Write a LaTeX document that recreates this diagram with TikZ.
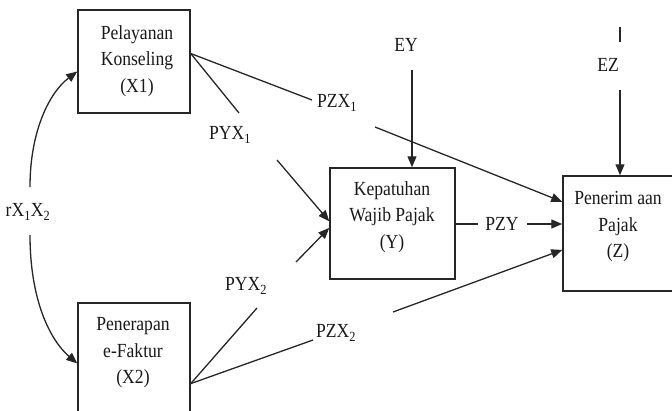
\documentclass[tikz,border=0pt]{standalone}
\usepackage{fontspec}
\setmainfont[FakeStretch=0.88]{Liberation Serif}
\usetikzlibrary{arrows.meta}

\begin{document}
\begin{tikzpicture}[x=1pt,y=-1pt,
  box/.style={draw=black!85,line width=1.5pt,inner sep=0pt},
  txt/.style={align=center,font=\fontsize{20}{26.5}\selectfont,inner sep=0pt,text=black!90},
  lbl/.style={font=\fontsize{20}{24}\selectfont,inner sep=0pt,text=black!90},
  lnk/.style={draw=black!85,line width=1.3pt},
  arr/.style={lnk,-{Triangle[length=11pt,width=9pt]}}
]
\useasboundingbox (0,0) rectangle (672,410);

% variable boxes
\node[box,minimum width=112pt,minimum height=103pt] (X1) at (134,61.5) {};
\node[box,minimum width=112pt,minimum height=113pt] (X2) at (134,359.5) {};
\node[box,minimum width=125pt,minimum height=111pt] (Y)  at (392.5,223.5) {};
\node[box,minimum width=113pt,minimum height=115pt] (Z)  at (619.5,233.5) {};

% box texts
\node[txt] (X1t) at (137,61) {Pelayanan\\Konseling\\(X1)};
\node[txt] (X2t) at (133,353) {Penerapan\\e-Faktur\\(X2)};
\node[txt] (Yt)  at (392,217) {Kepatuhan\\Wajib Pajak\\(Y)};
\node[txt] (Zt)  at (618,227) {Penerim aan\\Pajak\\(Z)};

% path coefficient labels
\node[lbl] (EY)   at (406,45)  {EY};
\node[lbl] (EZ)   at (608,65)  {EZ};
\node[lbl] (PYX1) at (230,135) {PYX\textsubscript{1}};
\node[lbl] (PZX1) at (337,103) {PZX\textsubscript{1}};
\node[lbl] (PYX2) at (246,286) {PYX\textsubscript{2}};
\node[lbl] (PZX2) at (336,333) {PZX\textsubscript{2}};
\node[lbl] (PZY)  at (502,224) {PZY};
\node[lbl] (rX)   at (28,212)  {rX\textsubscript{1}X\textsubscript{2}};

% free ends of the broken connectors
\coordinate (p1a) at (312,100);
\coordinate (p1b) at (375,127);
\coordinate (y1a) at (239,113);
\coordinate (y1b) at (277,160);
\coordinate (y2a) at (257,308);
\coordinate (y2b) at (296,262);
\coordinate (p2a) at (313,340);
\coordinate (p2b) at (393,312);
\coordinate (r1)  at (30,187);
\coordinate (r2)  at (30,235);
\coordinate (eyS) at (412,70);
\coordinate (ezT) at (620,27);
\coordinate (ezU) at (620,42);
\coordinate (ezS) at (620,90);
\coordinate (pyA) at (478,224);
\coordinate (pyB) at (527,224);

% X1 paths
\draw[lnk] (X1.8) -- (p1a);
\draw[arr] (p1b) -- (Z.151);
\draw[lnk] (X1.8) -- (y1a);
\draw[arr] (y1b) -- (Y.178);

% X2 paths
\draw[lnk] (X2.-23) -- (y2a);
\draw[arr] (y2b) -- (Y.184);
\draw[lnk] (X2.-23) -- (p2a);
\draw[arr] (p2b) -- (Z.196);

% Y to Z
\draw[lnk] (Y.east |- pyA) -- (pyA);
\draw[arr] (pyB) -- (pyB -| Z.west);

% residuals
\draw[arr] (eyS) -- (eyS |- Y.north);
\draw[lnk] (ezT) -- (ezU);
\draw[arr] (ezS) -- (ezS |- Z.north);

% correlation between X1 and X2
\draw[arr] (r1) .. controls (30,130) and (50,92) .. (X1.190);
\draw[arr] (r2) .. controls (30,300) and (50,340) .. (X2.184);
\end{tikzpicture}
\end{document}
